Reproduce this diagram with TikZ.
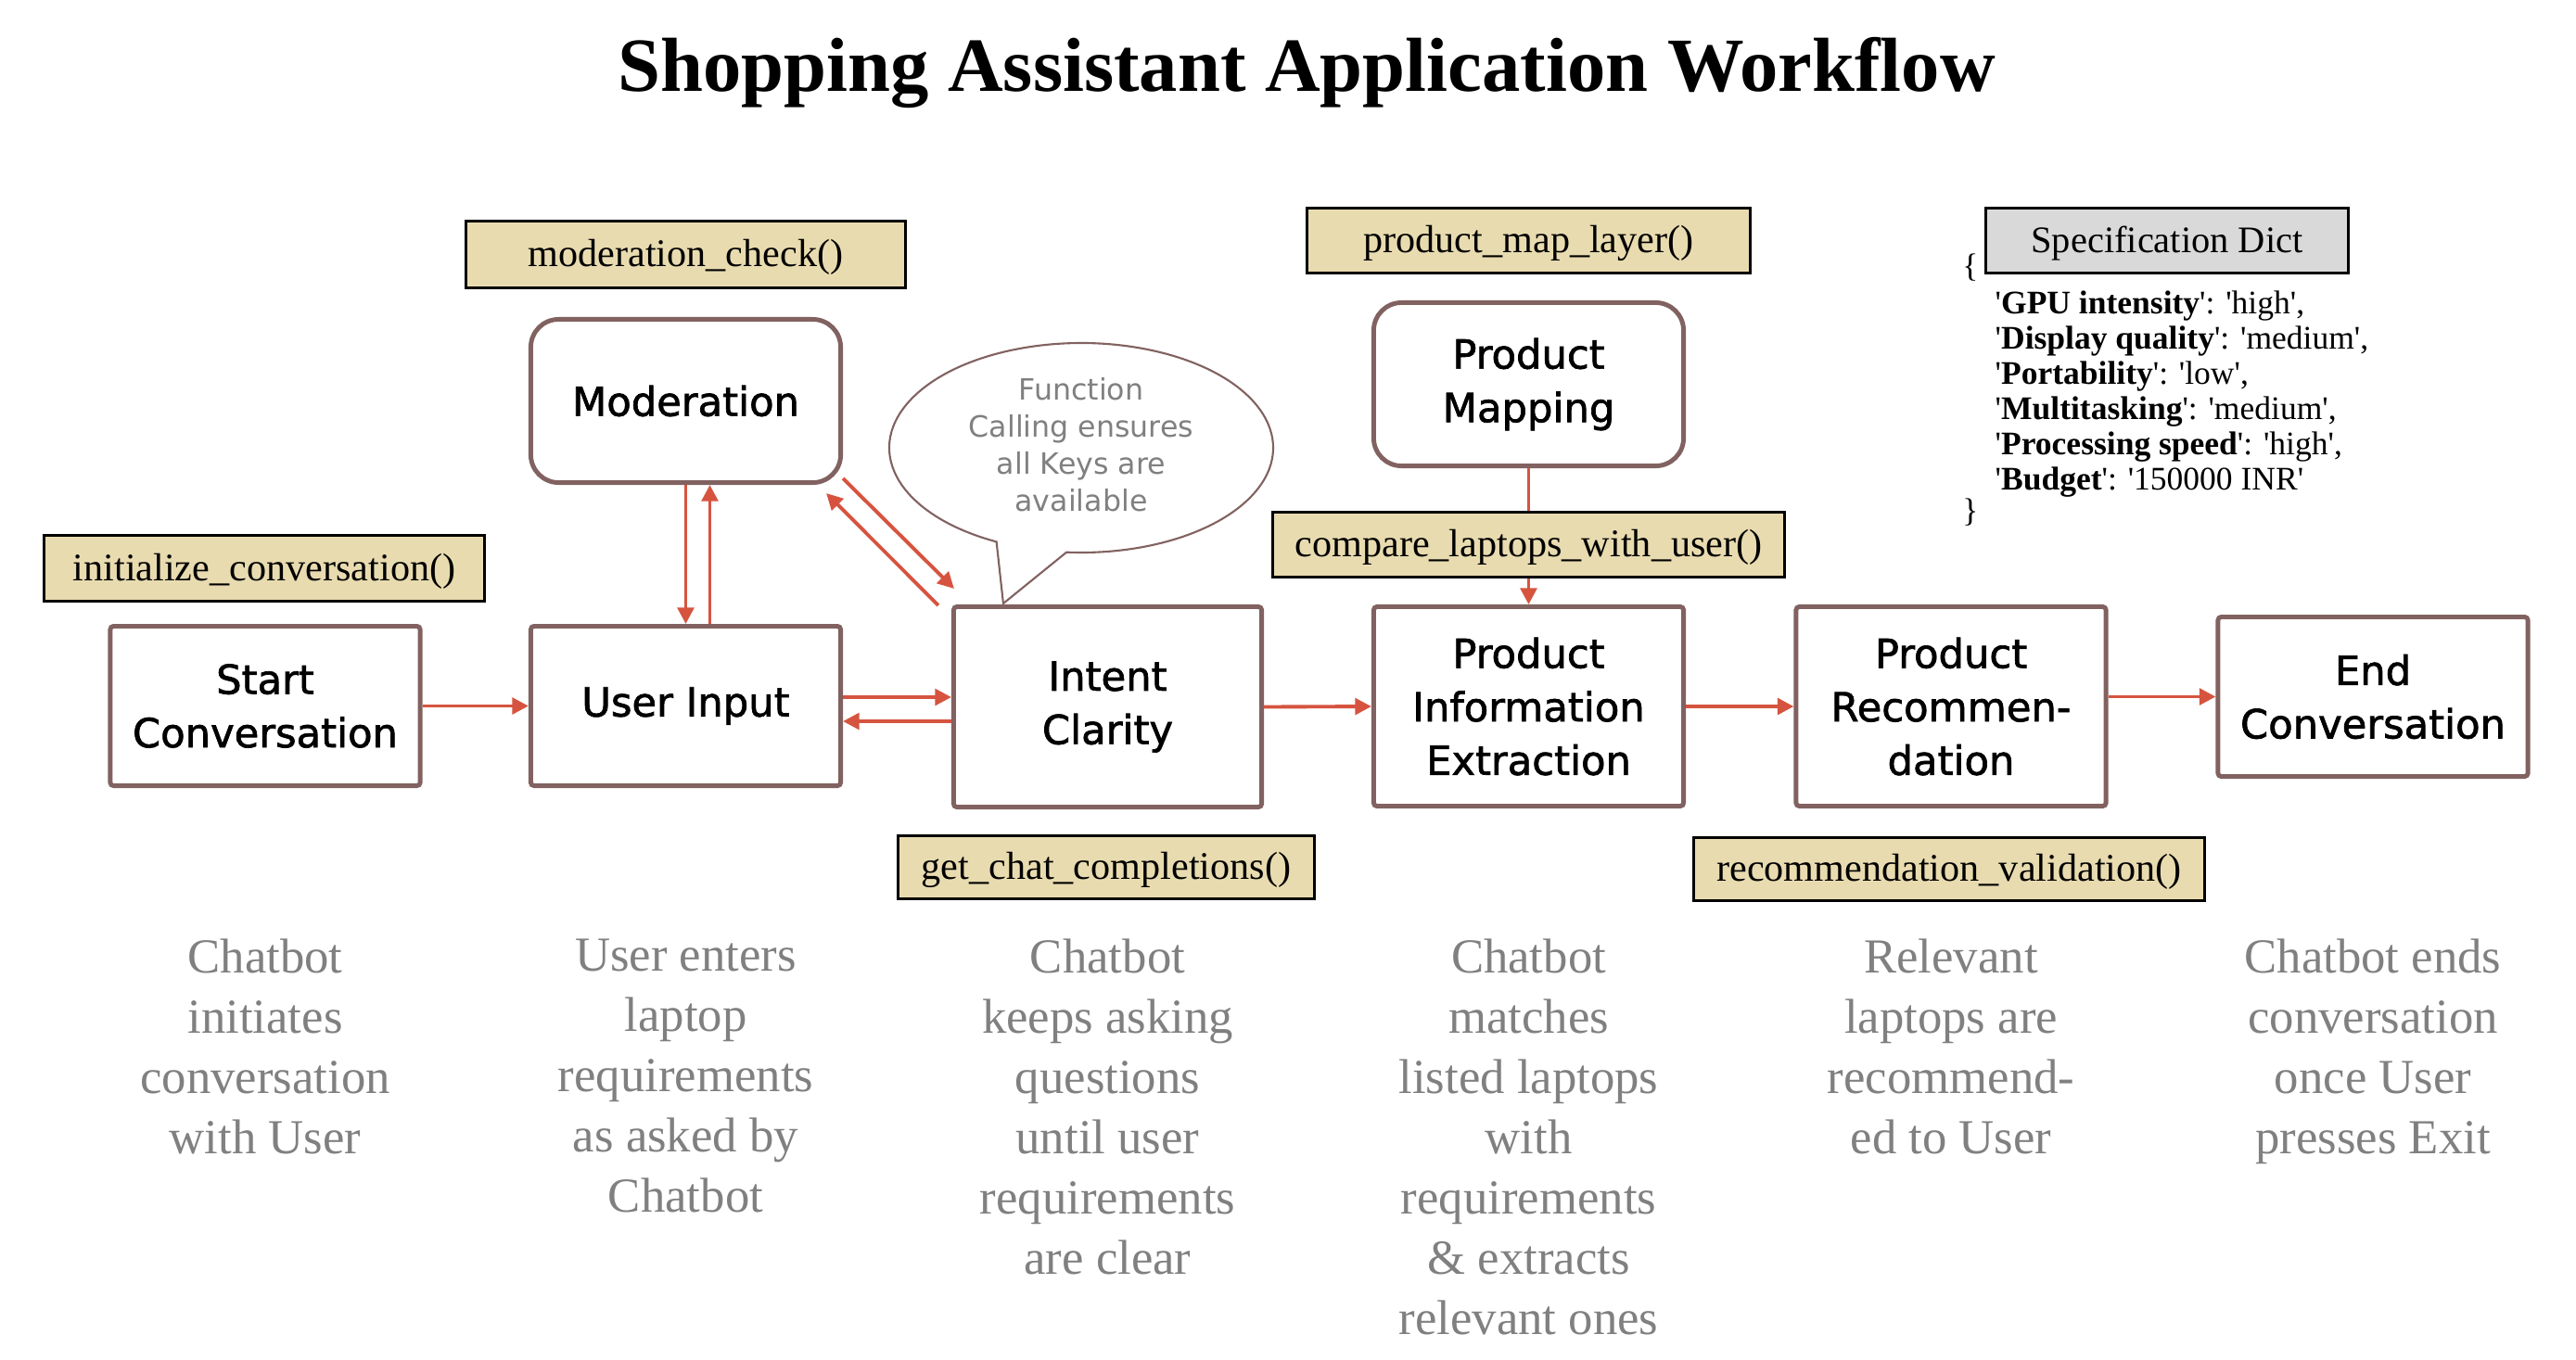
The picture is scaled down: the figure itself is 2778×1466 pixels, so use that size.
\documentclass[tikz,border=0pt]{standalone}
\usepackage{fontspec}
\setmainfont{Liberation Serif}
\newfontfamily\boxfont{DejaVu Sans}[FakeBold=1.6]
\newfontfamily\bubblefont{DejaVu Sans}
\newfontfamily\dictfont{Liberation Serif}
\usetikzlibrary{arrows.meta,calc}
\definecolor{boxbrown}{RGB}{129,98,96}
\definecolor{arrowred}{RGB}{214,84,63}
\definecolor{labelfill}{RGB}{232,219,175}
\definecolor{specfill}{RGB}{217,217,217}
\definecolor{descgray}{RGB}{128,128,128}
\tikzset{
  flowbox/.style={draw=boxbrown, line width=1.4pt, fill=white, rounded corners=1pt,
    align=center, inner sep=0pt, font=\boxfont\fontsize{12.3}{16.4}\selectfont,
    minimum width=3.34cm, minimum height=1.72cm},
  roundbox/.style={flowbox, rounded corners=0.3cm, minimum height=1.76cm},
  funclabel/.style={draw=black, line width=0.9pt, fill=labelfill, inner sep=0pt,
    text height=9.6pt, text depth=2pt, font=\fontsize{12}{14}\selectfont},
  desc/.style={text=descgray, align=center, inner sep=0pt, anchor=north,
    font=\fontsize{15}{18.5}\selectfont},
  arr/.style={draw=arrowred, line width=1.1pt, -{Triangle[length=5pt,width=5pt]}},
  bubbleline/.style={draw=boxbrown, line width=0.6pt, fill=white},
  dicttext/.style={inner sep=0pt, font=\dictfont\fontsize{10.1}{10.8}\selectfont}
}
\begin{document}
\begin{tikzpicture}[x=0.01cm, y=-0.01cm]
\useasboundingbox (0,0) rectangle (2778,1466);

\node[font=\bfseries\fontsize{23.5}{28}\selectfont, anchor=base] (title) at (1409,98)
  {Shopping Assistant Application Workflow};

% main boxes
\node[flowbox] (startc) at (286,761.5) {Start\\Conversation};
\node[flowbox] (user) at (739.5,761.5) {User Input};
\node[roundbox] (mod) at (739.5,432.5) {Moderation};
\node[flowbox, minimum width=3.32cm, minimum height=2.16cm] (intent) at (1194.5,762.5) {Intent\\Clarity};
\node[flowbox, minimum height=2.15cm] (pie) at (1648.5,762) {Product\\Information\\Extraction};
\node[roundbox] (pm) at (1648.5,414.5) {Product\\Mapping};
\node[flowbox, minimum height=2.15cm] (rec) at (2104,762) {Product\\Recommen-\\dation};
\node[flowbox] (endc) at (2559,751.5) {End\\Conversation};

% connectors
\draw[arr] (startc.east) -- (user.west);
\draw[arr] (mod.south) -- (user.north);
\draw[arr] ([xshift=0.26cm]user.north) -- ([xshift=0.26cm]mod.south);
\coordinate (ui1) at ($(user.east)+(0,-9.5)$);
\draw[arr] (ui1) -- (ui1 -| intent.west);
\coordinate (iu1) at ($(intent.west)+(0,15.5)$);
\draw[arr] (iu1) -- (iu1 -| user.east);
\draw[arr] ($(mod.south east)+(0,-7)$) -- ($(intent.north west)+(3,-17)$);
\draw[arr] ($(intent.north west)+(-14,1)$) -- ($(mod.south east)+(-18,9)$);
\draw[arr] (intent.east) -- (pie.west);
\draw[arr] (pm.south) -- (pie.north);
\draw[arr] (pie.east) -- (rec.west);
\draw[arr] (rec.east |- endc.west) -- (endc.west);

% function labels
\node[funclabel, minimum width=4.75cm, minimum height=0.71cm] (init) at (285,613) {initialize\_conversation()};
\node[funclabel, minimum width=4.74cm, minimum height=0.72cm] (modcheck) at (739.5,274.5) {moderation\_check()};
\node[funclabel, minimum width=4.49cm, minimum height=0.68cm] (getchat) at (1193,935.5) {get\_chat\_completions()};
\node[funclabel, minimum width=4.78cm, minimum height=0.70cm] (pmlayer) at (1648.5,259.5) {product\_map\_layer()};
\node[funclabel, minimum width=5.52cm, minimum height=0.70cm] (compare) at (1648.5,587.5) {compare\_laptops\_with\_user()};
\node[funclabel, minimum width=5.51cm, minimum height=0.68cm] (recval) at (2102,937.5) {recommendation\_validation()};

% speech bubble
\coordinate (bc) at (1166,483);
\coordinate (tip) at ($(intent.north west)+(56,-1)$);
\draw[bubbleline] ($(bc)+(116.2:207 and 113)$) arc[start angle=116.2, end angle=454.4, x radius=207, y radius=113] -- (tip) -- cycle;
\node[text=descgray, align=center, inner sep=0pt, font=\bubblefont\fontsize{9}{11.4}\selectfont] (bubble) at (1166,480)
  {Function\\Calling ensures\\all Keys are\\available};

% specification dict
\node[funclabel, fill=specfill, font=\fontsize{11.5}{14}\selectfont, minimum width=3.91cm, minimum height=0.70cm] (spec) at (2337,259.5) {Specification Dict};
\node[dicttext] (lbrace) at (2125,289) {\{};
\node[dicttext, anchor=north west, align=left] (dict) at (2151,313) {%
'\textbf{GPU intensity}': 'high',\\
'\textbf{Display quality}': 'medium',\\
'\textbf{Portability}': 'low',\\
'\textbf{Multitasking}': 'medium',\\
'\textbf{Processing speed}': 'high',\\
'\textbf{Budget}': '150000 INR'};
\node[dicttext] (rbrace) at (2125,553) {\}};

% descriptions
\node[desc] (d1) at (286,1012) {Chatbot\\initiates\\conversation\\with User};
\node[desc] (d2) at (739.5,1012) {User enters\\laptop\\requirements\\as asked by\\Chatbot};
\node[desc] (d3) at (1194.5,1012) {Chatbot\\keeps asking\\questions\\until user\\requirements\\are clear};
\node[desc] (d4) at (1648.5,1012) {Chatbot\\matches\\listed laptops\\with\\requirements\\\& extracts\\relevant ones};
\node[desc] (d5) at (2104,1012) {Relevant\\laptops are\\recommend-\\ed to User};
\node[desc] (d6) at (2559,1012) {Chatbot ends\\conversation\\once User\\presses Exit};
\end{tikzpicture}
\end{document}
